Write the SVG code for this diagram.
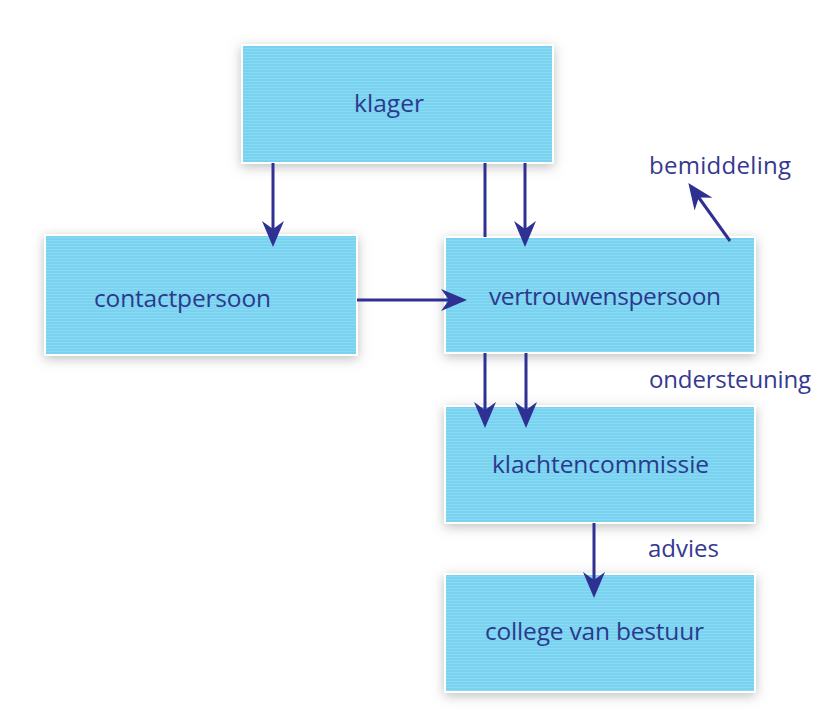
<svg xmlns="http://www.w3.org/2000/svg" width="813" height="720" viewBox="0 0 813 720">
  <style>
    .box { fill: url(#stripes); stroke: #ffffff; stroke-width: 2; filter: url(#shadow); }
    .lbl { font-family: "Open Sans", "Liberation Sans", sans-serif; font-size: 24.5px; fill: #2B3A8C; }
    .side { font-family: "Open Sans", "Liberation Sans", sans-serif; font-size: 24px; fill: #35398F; }
    .conn { stroke: #2E3192; stroke-width: 3; fill: none; }
    .arr { marker-end: url(#head); }
  </style>
  <defs>
    <pattern id="stripes" patternUnits="userSpaceOnUse" width="8" height="3">
      <rect width="8" height="3" fill="#78D2F0"/>
      <rect width="8" height="1" fill="#8ADAF3"/>
    </pattern>
    <filter id="shadow" x="-10%" y="-20%" width="120%" height="140%">
      <feDropShadow dx="0" dy="3" stdDeviation="6" flood-color="#808080" flood-opacity="0.5"/>
    </filter>
    <marker id="head" markerUnits="userSpaceOnUse" viewBox="-27 -12 28 24" refX="-8" refY="0" markerWidth="28" markerHeight="24" orient="auto">
      <path d="M0,0 L-26,-11 L-18,0 L-26,11 Z" fill="#2E3192"/>
    </marker>
  </defs>
  <rect width="813" height="720" fill="#ffffff"/>

  <g id="klager">
    <rect class="box" x="242" y="45" width="311" height="118"/>
    <text class="lbl" x="354" y="112" textLength="70">klager</text>
  </g>
  <g id="contactpersoon">
    <rect class="box" x="45" y="235" width="312" height="120"/>
    <text class="lbl" x="94" y="307" textLength="177">contactpersoon</text>
  </g>
  <g id="vertrouwenspersoon">
    <rect class="box" x="445" y="237" width="310" height="116"/>
    <text class="lbl" x="489" y="305" textLength="232">vertrouwenspersoon</text>
  </g>
  <g id="klachtencommissie">
    <rect class="box" x="445" y="406" width="310" height="117"/>
    <text class="lbl" x="492" y="473" textLength="217">klachtencommissie</text>
  </g>
  <g id="college">
    <rect class="box" x="445" y="574" width="310" height="118"/>
    <text class="lbl" x="485" y="640" textLength="219">college van bestuur</text>
  </g>

  <g id="labels">
    <text class="side" x="649" y="174" textLength="142">bemiddeling</text>
    <text class="side" x="649" y="388" textLength="162">ondersteuning</text>
    <text class="side" x="648" y="557" textLength="71">advies</text>
  </g>

  <g id="connectors">
    <line class="conn arr" x1="273" y1="163" x2="273" y2="239"/>
    <line class="conn" x1="485" y1="163" x2="485" y2="237"/>
    <line class="conn arr" x1="525" y1="163" x2="525" y2="239"/>
    <line class="conn arr" x1="357" y1="300" x2="459" y2="300"/>
    <line class="conn arr" x1="730" y1="241" x2="693" y2="189.5"/>
    <line class="conn arr" x1="485" y1="353" x2="485" y2="420"/>
    <line class="conn arr" x1="526" y1="353" x2="526" y2="420"/>
    <line class="conn arr" x1="594" y1="523" x2="594" y2="590"/>
  </g>
</svg>
